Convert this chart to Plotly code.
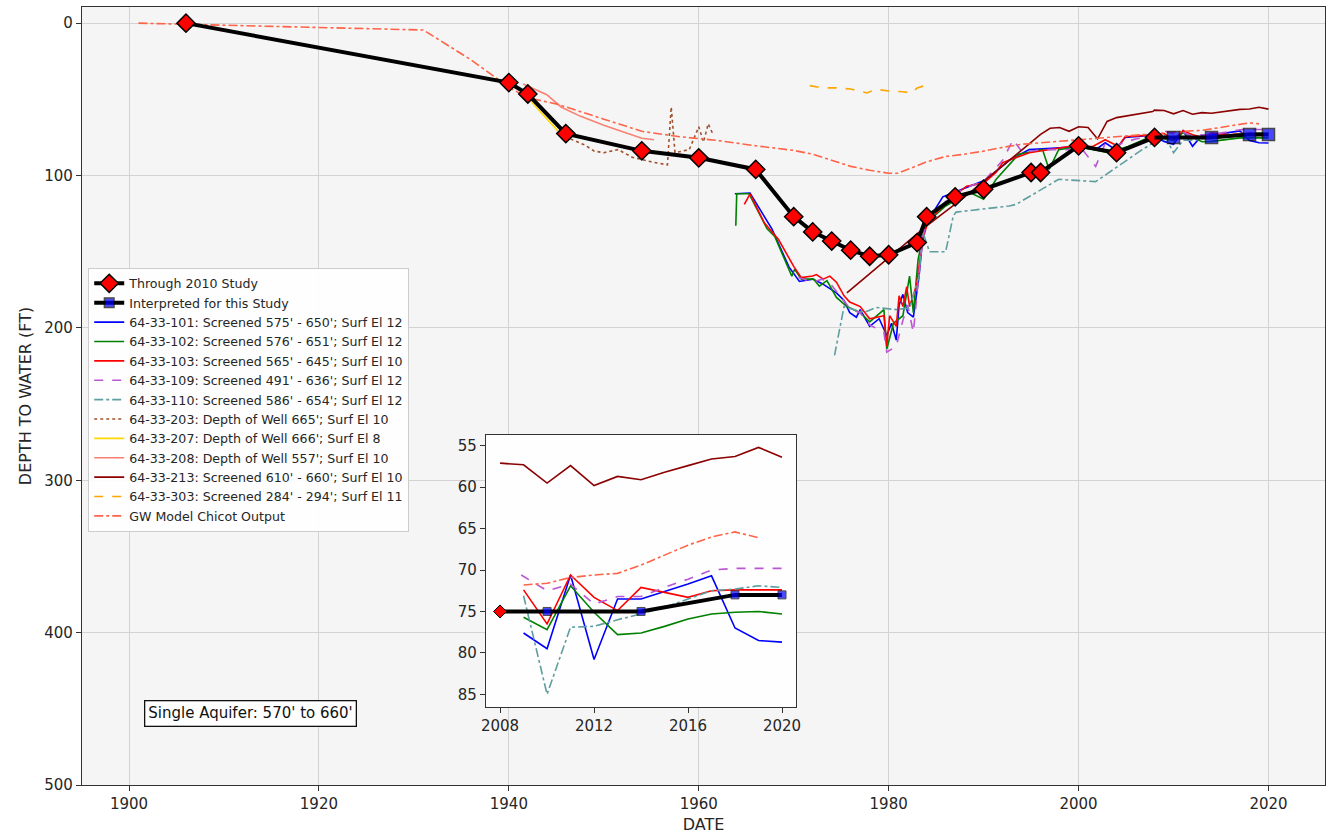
import plotly.graph_objects as go

# ---------------- data ----------------
# Historical depth-to-water trend (red diamonds)
study_years = [1906, 1940, 1942, 1946, 1954, 1960, 1966, 1970, 1972, 1974, 1976,
               1978, 1980, 1983, 1984, 1987, 1990, 1995, 1996, 2000, 2004, 2008]
study_depth = [0, 39, 46.5, 72.5, 83.8, 88.4, 96, 127, 137, 143, 149,
               153, 152, 144, 127, 114, 109, 98, 98, 80.5, 85, 75]

# Interpreted trend (blue squares), continuing from the 2008 point
interp_years = [2008, 2010, 2014, 2018, 2020]
interp_depth = [75, 75, 75, 73, 73]

# Recent record shared by several wells
recent_years = [2009, 2010, 2011, 2012, 2013, 2014, 2015, 2016, 2017, 2018, 2019, 2020]

w101_years = [1963.8, 1965.4, 1967.7, 1969.5, 1970.6, 1972, 1973, 1974.5, 1975.3, 1975.9,
              1976.6, 1977, 1978, 1979, 1979.8, 1980.3, 1980.8, 1981.1, 1981.5, 1982,
              1982.6, 1983.2, 1983.6, 1984, 1985.7, 1987.8, 1990.2, 1992.7, 1994.8,
              1997.6, 1999.7, 2001.8, 2002.8, 2003.9, 2004.9, 2007.8] + recent_years
w101_depth = [112, 111.5, 135, 160, 169.5, 168, 171, 177, 182, 190,
              193, 188, 199, 194, 205, 197, 208, 185, 178, 190,
              193, 166, 140, 131, 114, 109, 103, 90, 83,
              82, 81, 83, 78.5, 83, 75, 73.5,
              77.6, 79.5, 70.6, 80.8, 73.5, 73.5, 72.6, 71.7, 70.7, 77.0, 78.5, 78.7]

w102_years = [1963.9, 1964.0, 1965.3, 1967.2, 1968, 1969.8, 1970.1, 1970.8, 1972.1, 1972.7,
              1973.5, 1974.5, 1975.6, 1977, 1978, 1979.5, 1979.8, 1980.5, 1981.5, 1982.2,
              1982.6, 1983.1, 1983.6, 1984, 1986, 1988.5, 1990, 1991.3, 1993.7, 1996.2,
              1996.9, 1997.9, 2000, 2003.1, 2005.2, 2007.8] + recent_years
w102_depth = [133, 112, 112, 135, 140, 166, 161.5, 168, 168, 172.6,
              169, 180, 186, 190, 196, 188, 214, 197, 192, 166,
              190, 155, 140, 131, 120, 111, 115.6, 102.6, 86, 83,
              96, 83, 81, 85, 81, 74,
              75.7, 77.2, 71.9, 75.1, 77.8, 77.6, 76.8, 75.9, 75.3, 75.1, 75.0, 75.3]

w103_years = [1964.8, 1965.4, 1966.9, 1968.4, 1970, 1970.8, 1972, 1972.4, 1973.1, 1973.8,
              1974.5, 1975.3, 1975.9, 1977, 1978, 1979.5, 1979.8, 1980.1, 1980.8, 1981.1,
              1981.5, 1981.9, 1982.2, 1982.9, 1983.6, 1984, 1985, 1986.4, 1988.2, 1990,
              1991.3, 1992, 1994.8, 1999, 2001.5, 2002.8, 2004.2, 2004.9, 2007.8] + recent_years
w103_depth = [119, 112, 131, 142, 159.6, 167, 166, 165, 168, 166,
              170, 179, 183, 186, 194, 192, 212, 192, 199, 179,
              186, 173, 186, 173, 142, 133, 124.6, 116, 107, 105,
              98, 91.5, 85, 81, 81, 76.5, 81, 74.6, 73.3,
              72.4, 76.5, 70.6, 73.3, 74.9, 72.1, 72.7, 73.3, 72.5, 72.4, 72.4, 72.4]

w109_years = [1970.5, 1972, 1973, 1974, 1975, 1976, 1977, 1978, 1979.5, 1979.8,
              1980.8, 1981.5, 1982, 1982.6, 1983.1, 1983.6, 1984, 1986, 1988, 1990,
              1992, 1993.1, 1994.1, 1996, 1998.3, 2000.4, 2001.8, 2002.8, 2004, 2006,
              2008, 2008.9] + recent_years[1:]
w109_depth = [167, 170, 168, 172, 180, 188, 190, 198, 203, 216,
              212, 195, 185, 203, 170, 140, 131, 117, 108, 104,
              90, 76.5, 85, 83, 83, 83, 94, 79, 80, 76,
              74, 70.6,
              72.5, 71.7, 74.1, 73.2, 73.2, 72.1, 71.1, 70.0, 69.8, 69.8, 69.8]

w110_years = [1974.3, 1975.3, 1977.4, 1978.7, 1980.8, 1982.2, 1983.2, 1983.6, 1984.3, 1986,
              1986.8, 1987.1, 1992.7, 1993.4, 1997.9, 2001.8, 2003.9, 2006.7, 2008.4] + recent_years
w110_depth = [218, 186, 190, 186.6, 188, 187, 166, 137, 150, 150,
              126.6, 124, 120, 119, 102.5, 104, 95, 83, 76.5,
              73.1, 85.0, 76.9, 76.8, 76.0, 75.3, 74.5, 73.5, 72.5, 72.3, 71.9, 72.1]

w203_years = [1946.5, 1948, 1949, 1950, 1951.5, 1953, 1955, 1956.7, 1957.1, 1957.5,
              1959, 1960, 1960.5, 1961, 1961.5]
w203_depth = [76, 80, 84, 85, 83, 88, 91, 93, 55, 85,
              83, 68, 78, 66, 73]

w207_years = [1941.5, 1943, 1945.2]
w207_depth = [45, 56, 71]

w208_years = [1941.5, 1942.5, 1944, 1945.5, 1947.5, 1950, 1952, 1954, 1955.3]
w208_depth = [40, 43, 47, 55, 61, 67, 71, 75.5, 76.5]

w213_years = [1975.6, 1984, 1988, 1991, 1993.5, 1996, 1997, 1998, 1999, 2000,
              2001, 2002, 2003, 2004, 2006, 2007.8, 2008] + recent_years
w213_depth = [177, 133, 114, 99, 86, 73, 69, 68.5, 71, 68,
              68.5, 76, 64.5, 62, 60, 58, 57.1,
              57.3, 59.5, 57.4, 59.8, 58.7, 59.1, 58.2, 57.4, 56.6, 56.3, 55.2, 56.4]

w303_years = [1971.7, 1973, 1974.5, 1976, 1977.7, 1978.7, 1980, 1981.5, 1982.4, 1983, 1984]
w303_depth = [41, 42.5, 42.5, 43.2, 45.8, 43.4, 44.5, 45, 45.8, 42.5, 40.6]

gw_years = [1901, 1931, 1936, 1940, 1942, 1945, 1950, 1954, 1958, 1962, 1966, 1970, 1972,
            1974, 1976, 1978, 1980, 1981, 1982, 1983, 1984, 1986, 1988, 1990, 1992, 1994,
            1996, 1998, 2000, 2002, 2004, 2006, 2008] + recent_years[:-1]
gw_depth = [0, 4.5, 24, 42, 49, 53, 63, 71, 74.5, 77, 80.5, 83.5, 86,
            90, 94, 96.5, 98.5, 98.5, 96, 94, 91, 87.5, 86, 84, 81.5, 79.5,
            78.5, 77.5, 76.5, 75.5, 74.5, 73.5, 72.5,
            71.8, 71.6, 70.9, 70.6, 70.4, 69.4, 68.2, 67.0, 66.0, 65.4, 66.1]

# (name, years, depths, color, dash, first year shown in the inset or None)
wells = [
    ("64-33-101: Screened 575' - 650'; Surf El 12", w101_years, w101_depth, "#0000ff", "solid", 2009),
    ("64-33-102: Screened 576' - 651'; Surf El 12", w102_years, w102_depth, "#008000", "solid", 2009),
    ("64-33-103: Screened 565' - 645'; Surf El 10", w103_years, w103_depth, "#ff0000", "solid", 2009),
    ("64-33-109: Screened 491' - 636'; Surf El 12", w109_years, w109_depth, "#ba55d3", "dash", 2008.5),
    ("64-33-110: Screened 586' - 654'; Surf El 12", w110_years, w110_depth, "#5f9ea0", "dashdot", 2009),
    ("64-33-203: Depth of Well 665'; Surf El 10", w203_years, w203_depth, "#a0522d", "dot", None),
    ("64-33-207: Depth of Well 666'; Surf El 8", w207_years, w207_depth, "#ffd700", "solid", None),
    ("64-33-208: Depth of Well 557'; Surf El 10", w208_years, w208_depth, "#fa8072", "solid", None),
    ("64-33-213: Screened 610' - 660'; Surf El 10", w213_years, w213_depth, "#8b0000", "solid", 2008),
    ("64-33-303: Screened 284' - 294'; Surf El 11", w303_years, w303_depth, "#ffa500", "dash", None),
    ("GW Model Chicot Output", gw_years, gw_depth, "#ff6347", "dashdot", 2009),
]

x_ticks = [1900, 1920, 1940, 1960, 1980, 2000, 2020]
y_ticks = [0, 100, 200, 300, 400, 500]
inset_x_ticks = [2008, 2012, 2016, 2020]
inset_y_ticks = [55, 60, 65, 70, 75, 80, 85]

# ---------------- figure ----------------
fig = go.Figure()

# Well records on the main axes
for rank, (name, xs, ys, col, dash, _) in enumerate(wells):
    fig.add_trace(go.Scatter(
        x=xs, y=ys, mode="lines", name=name, legendrank=10 + rank,
        line=dict(color=col, width=1.6, dash=dash),
        xaxis="x", yaxis="y"))

# Trend lines drawn on top of the well records
fig.add_trace(go.Scatter(
    x=study_years, y=study_depth, mode="lines+markers", name="Through 2010 Study", legendrank=1,
    line=dict(color="black", width=4),
    marker=dict(symbol="diamond", size=14, color="#ff0000", line=dict(color="black", width=1.5)),
    xaxis="x", yaxis="y"))
fig.add_trace(go.Scatter(
    x=interp_years, y=interp_depth, mode="lines+markers", name="Interpreted for this Study", legendrank=2,
    line=dict(color="black", width=4),
    marker=dict(symbol="square", size=[0, 12, 12, 12, 12], color="#0000ff",
                line=dict(color="black", width=1.5)),
    xaxis="x", yaxis="y"))

# Inset: zoom on 2008-2020
for name, xs, ys, col, dash, start in wells:
    if start is None:
        continue
    pts = [(x, y) for x, y in zip(xs, ys) if x >= start]
    fig.add_trace(go.Scatter(
        x=[p[0] for p in pts], y=[p[1] for p in pts], mode="lines", name=name, showlegend=False,
        line=dict(color=col, width=1.6, dash=dash),
        xaxis="x2", yaxis="y2"))
fig.add_trace(go.Scatter(
    x=interp_years, y=interp_depth, mode="lines+markers", showlegend=False,
    line=dict(color="black", width=4),
    marker=dict(symbol="square", size=[0, 8, 8, 8, 8], color="#0000ff",
                line=dict(color="black", width=1)),
    xaxis="x2", yaxis="y2"))
fig.add_trace(go.Scatter(
    x=study_years[-1:], y=study_depth[-1:], mode="markers", showlegend=False,
    marker=dict(symbol="diamond", size=10, color="#ff0000", line=dict(color="black", width=1)),
    xaxis="x2", yaxis="y2"))

axis_font = dict(family="DejaVu Sans", size=15, color="#262626")
fig.update_layout(
    width=1336, height=838,
    margin=dict(l=82, r=6, t=7, b=53),
    paper_bgcolor="#ffffff",
    plot_bgcolor="#fefefe",
    font=dict(family="DejaVu Sans", color="#262626"),
    showlegend=True,
    legend=dict(
        x=0.005, y=0.665, xanchor="left", yanchor="top",
        bgcolor="rgba(255,255,255,0.9)", bordercolor="#cccccc", borderwidth=1,
        font=dict(family="DejaVu Sans", size=12.6, color="#262626"),
        tracegroupgap=0, itemwidth=30),
    xaxis=dict(
        domain=[0, 1], range=[1895.05, 2025.95], tickvals=x_ticks,
        showgrid=True, gridcolor="#d3d3d3", gridwidth=1, zeroline=False,
        showline=True, linecolor="#333333", linewidth=1.2, mirror=True,
        ticks="outside", ticklen=5, tickcolor="#333333", tickfont=axis_font,
        title=dict(text="DATE", font=dict(family="DejaVu Sans", size=16, color="#262626"), standoff=6),
        automargin=False),
    yaxis=dict(
        domain=[0, 1], range=[500, -10.6], tickvals=y_ticks,
        showgrid=True, gridcolor="#d3d3d3", gridwidth=1, zeroline=False,
        showline=True, linecolor="#333333", linewidth=1.2, mirror=True,
        ticks="outside", ticklen=5, tickcolor="#333333", tickfont=axis_font,
        title=dict(text="DEPTH TO WATER (FT)", font=dict(family="DejaVu Sans", size=16, color="#262626"), standoff=8),
        automargin=False),
    xaxis2=dict(
        domain=[0.325, 0.5745], anchor="y2", range=[2007.4, 2020.6], tickvals=inset_x_ticks,
        showgrid=False, zeroline=False,
        showline=True, linecolor="#333333", linewidth=1.2, mirror=True,
        ticks="outside", ticklen=5, tickcolor="#333333", tickfont=axis_font),
    yaxis2=dict(
        domain=[0.1006, 0.4499], anchor="x2", range=[86.5, 53.7], tickvals=inset_y_ticks,
        showgrid=False, zeroline=False,
        showline=True, linecolor="#333333", linewidth=1.2, mirror=True,
        ticks="outside", ticklen=5, tickcolor="#333333", tickfont=axis_font),
    shapes=[dict(type="rect", xref="paper", yref="paper", x0=0, x1=1, y0=0, y1=1,
                 fillcolor="#f5f5f5", line=dict(width=0), layer="below")],
    annotations=[dict(
        x=1912.8, y=453, xref="x", yref="y", text="Single Aquifer: 570' to 660'",
        showarrow=False, font=dict(family="DejaVu Sans", size=15, color="#111111"),
        bgcolor="white", bordercolor="#111111", borderwidth=1.3, borderpad=3)],
)

fig.write_html("out.html")
